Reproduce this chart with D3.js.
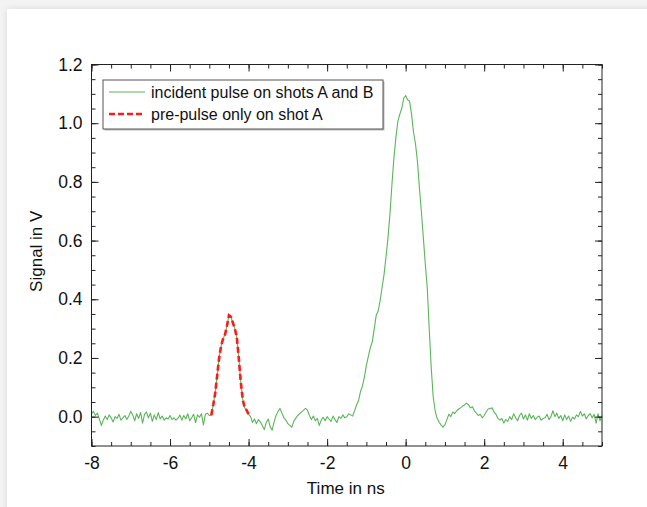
<!DOCTYPE html>
<html>
<head>
<meta charset="utf-8">
<script src="https://cdn.jsdelivr.net/npm/d3@7"></script>
<style>
  html, body { margin: 0; padding: 0; background: #f3f3f3; overflow: hidden; }
  .card { position: absolute; left: 7px; top: 9px; width: 660px; height: 520px; background: #fff;
          box-shadow: 0 0 7px rgba(0,0,0,0.10); }
  svg { position: absolute; left: 0; top: 0; }
  text { font-family: "Liberation Sans", Arial, Helvetica, sans-serif; fill: #111; }
  .axis path { display: none; }
  .axis line { stroke: #222; stroke-width: 1; }
</style>
</head>
<body>
<div class="card"></div>
<svg id="chart" width="647" height="507"></svg>
<script>

// sampling of the scope trace, in ns
const T0 = -8
const DT = 0.05

// signal in V, one value every DT from T0 to 5 ns
const signal = [
  0.010, 0.018, 0.004, 0.012,-0.008,-0.030,-0.012, 0.002,-0.010, 0.006,
 -0.004,-0.018, 0.000,-0.006, 0.008,-0.012,-0.004, 0.004,-0.010, 0.002,
  0.018, 0.006,-0.014, 0.010,-0.006, 0.014,-0.022, 0.008, 0.016,-0.004,
  0.012,-0.016, 0.006,-0.010, 0.014,-0.008, 0.002,-0.012,-0.004,-0.008,
  0.004,-0.010,-0.004,-0.012,-0.006, 0.006,-0.012, 0.004,-0.008, 0.010,
 -0.014,-0.004, 0.008,-0.020, 0.006,-0.002, 0.010,-0.028, 0.008, 0.012,
  0.004, 0.005, 0.040, 0.080, 0.140, 0.200, 0.240, 0.265, 0.280, 0.310,
  0.345, 0.340, 0.320, 0.300, 0.270, 0.200, 0.120, 0.060, 0.030, 0.022,
  0.008, 0.000,-0.020,-0.008,-0.024,-0.010,-0.018,-0.030,-0.044,-0.020,
 -0.008,-0.034,-0.046,-0.018, 0.004, 0.018, 0.028, 0.012,-0.004,-0.012,
 -0.024,-0.030,-0.036,-0.016,-0.006, 0.004, 0.010, 0.016, 0.022, 0.028,
  0.022, 0.004,-0.010, 0.002,-0.014,-0.006,-0.030,-0.012,-0.002,-0.014,
  0.000,-0.008,-0.016, 0.002,-0.010,-0.020, 0.000,-0.006, 0.006,-0.004,
  0.000, 0.010, 0.006, 0.002, 0.020, 0.040, 0.055, 0.085, 0.105, 0.135,
  0.175, 0.205, 0.235, 0.255, 0.300, 0.345, 0.360, 0.395, 0.440, 0.485,
  0.545, 0.610, 0.690, 0.790, 0.880, 0.950, 1.005, 1.030, 1.050, 1.085,
  1.094, 1.080, 1.075, 1.030, 0.970, 0.930, 0.870, 0.780, 0.700, 0.610,
  0.520, 0.440, 0.300, 0.170, 0.070, 0.020,-0.005,-0.018,-0.028,-0.036,
 -0.028,-0.010, 0.008, 0.000, 0.016, 0.010, 0.020, 0.026, 0.030, 0.036,
  0.040, 0.046, 0.040, 0.030, 0.034, 0.020, 0.012, 0.004, 0.008,-0.004,
  0.004, 0.016, 0.026, 0.028, 0.030, 0.016, 0.008,-0.006,-0.012,-0.006,
 -0.022,-0.010,-0.016, 0.000,-0.010, 0.010,-0.004,-0.014, 0.004, 0.012,
 -0.008, 0.006,-0.012, 0.010,-0.006, 0.004,-0.010,-0.002, 0.002,-0.012,
 -0.006,-0.004, 0.008,-0.010, 0.000, 0.020, 0.000, 0.012,-0.006, 0.004,
 -0.014, 0.006,-0.010, 0.002,-0.016,-0.002,-0.008, 0.006, 0.000, 0.018,
  0.002, 0.010,-0.008, 0.004, 0.010,-0.004, 0.008,-0.022, 0.010,-0.014,
  0.004
]

// part of the trace that is the pre-pulse (shot A only)
const preWindow = [-4.95, -4.0]

const xMajor = [-8, -6, -4, -2, 0, 2, 4]
const xMinor = d3.range(-8, 5.01, 0.5)
const yMajor = [0.0, 0.2, 0.4, 0.6, 0.8, 1.0, 1.2]
const yMinor = d3.range(-0.1, 1.201, 0.05)

const legendItems = [
  {label: 'incident pulse on shots A and B', cls: 'incident'},
  {label: 'pre-pulse only on shot A', cls: 'pre'}
]

//----------------------------------------------------------------

const green = '#5bb55b'
const red = '#ff1a1a'

const margin = {left: 91.5, right: 602, top: 64.5, bottom: 446}

const svg = d3.select('#chart')

const x = d3.scaleLinear().domain([-8, 5]).range([margin.left, margin.right])
const y = d3.scaleLinear().domain([-0.1, 1.2]).range([margin.bottom, margin.top])

const points = signal.map((v, i) => ({t: T0 + i * DT, v: v}))
const prePoints = points.filter(d => d.t >= preWindow[0] - 1e-6 && d.t <= preWindow[1] + 1e-6)

const line = d3.line().x(d => x(d.t)).y(d => y(d.v))

const plot = svg.append('g')

plot.append('path')
  .datum(points)
  .attr('d', line)
  .attr('fill', 'none')
  .attr('stroke', green)
  .attr('stroke-width', 1.1)
  .attr('stroke-linejoin', 'round')

plot.append('path')
  .datum(prePoints)
  .attr('d', line)
  .attr('fill', 'none')
  .attr('stroke', red)
  .attr('stroke-width', 2.6)
  .attr('stroke-dasharray', '6,3')

// frame
svg.append('rect')
  .attr('x', margin.left).attr('y', margin.top)
  .attr('width', margin.right - margin.left)
  .attr('height', margin.bottom - margin.top)
  .attr('fill', 'none')
  .attr('stroke', '#222')
  .attr('stroke-width', 1)

// ticks on all four sides, pointing in
const addAxis = (axisFn, scale, values, size, transform, fmt, pad) => {
  const a = axisFn(scale).tickValues(values).tickSize(-size).tickPadding(pad)
  a.tickFormat(fmt ? fmt : () => '')
  svg.append('g').attr('class', 'axis').attr('transform', transform).call(a)
}

const xFmt = d => String(d)   // plain hyphen for negatives, as in the original
const yFmt = d3.format('.1f')

addAxis(d3.axisBottom, x, xMinor, 4, `translate(0,${margin.bottom})`, null, 0)
addAxis(d3.axisBottom, x, xMajor, 7, `translate(0,${margin.bottom})`, xFmt, 11)
addAxis(d3.axisTop, x, xMinor, 4, `translate(0,${margin.top})`, null, 0)
addAxis(d3.axisTop, x, xMajor, 7, `translate(0,${margin.top})`, null, 0)
addAxis(d3.axisLeft, y, yMinor, 4, `translate(${margin.left},0)`, null, 0)
addAxis(d3.axisLeft, y, yMajor, 7, `translate(${margin.left},0)`, yFmt, 9)
addAxis(d3.axisRight, y, yMinor, 4, `translate(${margin.right},0)`, null, 0)
addAxis(d3.axisRight, y, yMajor, 7, `translate(${margin.right},0)`, null, 0)

svg.selectAll('.axis text')
  .style('font-size', '17.5px')
  .attr('fill', '#111')

// axis titles
svg.append('text')
  .attr('x', (margin.left + margin.right) / 2 - 1)
  .attr('y', 494)
  .attr('text-anchor', 'middle')
  .style('font-size', '17px')
  .text('Time in ns')

svg.append('text')
  .attr('transform', `translate(42,${(margin.top + margin.bottom) / 2 - 4}) rotate(-90)`)
  .attr('text-anchor', 'middle')
  .style('font-size', '17px')
  .text('Signal in V')

// legend
const legend = svg.append('g').attr('transform', 'translate(103,80)')

legend.append('rect')
  .attr('x', 1.5).attr('y', 1.5)
  .attr('width', 280).attr('height', 49)
  .attr('fill', '#bbb')

legend.append('rect')
  .attr('width', 280).attr('height', 49)
  .attr('fill', '#fff')
  .attr('stroke', '#555')
  .attr('stroke-width', 1)

const rows = legend.selectAll('g.row')
  .data(legendItems)
  .join('g')
  .attr('class', 'row')
  .attr('transform', (d, i) => `translate(0,${12 + i * 22})`)

rows.append('line')
  .attr('x1', 6).attr('x2', 42)
  .attr('stroke', d => d.cls === 'pre' ? red : green)
  .attr('stroke-width', d => d.cls === 'pre' ? 2.6 : 1.1)
  .attr('stroke-dasharray', d => d.cls === 'pre' ? '6,3' : null)

rows.append('text')
  .attr('x', 48)
  .attr('dy', '0.35em')
  .style('font-size', '16px')
  .text(d => d.label)

</script>
</body>
</html>
